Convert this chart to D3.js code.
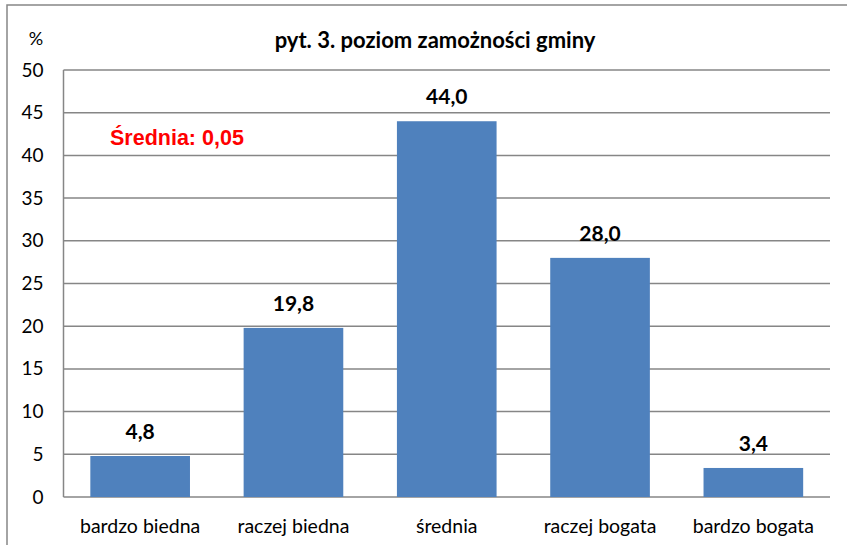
<!doctype html>
<html>
<head>
<meta charset="UTF-8" />
<title>pyt. 3. poziom zamożności gminy</title>
<style type="text/css">
body {
	margin: 0;
	background: #fff;
}

svg {
	display: block;
}

.grid line {
	stroke: #868686;
	stroke-width: 1.5px;
}

.axis text {
	font-family: Lato, "Open Sans", sans-serif;
	fill: #000;
}

.bar {
	fill: #4f81bd;
}

.value {
	font-family: Lato, sans-serif;
	font-weight: bold;
	font-size: 21px;
	text-anchor: middle;
}
</style>
<script src="https://d3js.org/d3.v7.min.js"></script>
</head>
<body>
<script>
	var categories = ["bardzo biedna", "raczej biedna", "średnia", "raczej bogata", "bardzo bogata"];
	var values = [4.8, 19.8, 44.0, 28.0, 3.4];
	var yTicks = [0, 5, 10, 15, 20, 25, 30, 35, 40, 45, 50];

	var W = 847, H = 545;
	var margin = {top: 70, right: 17, bottom: 48, left: 63.5},
		width = W - margin.left - margin.right,
		height = H - margin.top - margin.bottom;

	var svg = d3.select("body").append("svg")
		.attr("width", W)
		.attr("height", H);

	// outer frame (right and bottom edges fall outside the picture)
	svg.append("rect")
		.attr("x", 7)
		.attr("y", 5)
		.attr("width", W + 10)
		.attr("height", H + 10)
		.attr("fill", "none")
		.attr("stroke", "#868686")
		.attr("stroke-width", 1.5);

	var g = svg.append("g")
		.attr("transform", "translate(" + margin.left + "," + margin.top + ")");

	var x = d3.scaleBand()
		.domain(categories)
		.range([0, width])
		.paddingInner(0.35)
		.paddingOuter(0.175);

	var y = d3.scaleLinear()
		.domain([0, 50])
		.range([height, 0]);

	// gridlines
	g.append("g")
		.attr("class", "grid")
		.selectAll("line")
		.data(yTicks)
		.enter().append("line")
			.attr("x1", 0)
			.attr("x2", width)
			.attr("y1", function(d) { return y(d); })
			.attr("y2", function(d) { return y(d); });

	// y axis line
	g.append("g")
		.attr("class", "grid")
		.append("line")
			.attr("x1", 0)
			.attr("x2", 0)
			.attr("y1", y(50))
			.attr("y2", y(0));

	var yAxis = d3.axisLeft(y)
		.tickValues(yTicks)
		.tickSize(0)
		.tickPadding(20);

	g.append("g")
		.attr("class", "y axis")
		.call(yAxis)
		.call(function(s) { s.select(".domain").remove(); })
		.selectAll("text")
			.style("font-size", "19px");

	g.selectAll("rect.bar")
		.data(values)
		.enter().append("rect")
			.attr("class", "bar")
			.attr("x", function(d, i) { return x(categories[i]); })
			.attr("width", x.bandwidth())
			.attr("y", function(d) { return y(d); })
			.attr("height", function(d) { return y(0) - y(d); });

	g.selectAll("text.value")
		.data(values)
		.enter().append("text")
			.attr("class", "value")
			.attr("x", function(d, i) { return x(categories[i]) + x.bandwidth() / 2; })
			.attr("y", function(d) { return y(d) - 17; })
			.text(function(d) { return d.toFixed(1).replace(".", ","); });

	var xAxis = d3.axisBottom(x)
		.tickSize(0)
		.tickPadding(22);

	g.append("g")
		.attr("class", "x axis")
		.attr("transform", "translate(0," + height + ")")
		.call(xAxis)
		.call(function(s) { s.select(".domain").remove(); })
		.selectAll("text")
			.style("font-size", "19.5px");

	svg.append("text")
		.attr("x", 435)
		.attr("y", 48)
		.attr("text-anchor", "middle")
		.style("font-family", "Lato, sans-serif")
		.style("font-weight", "bold")
		.style("font-size", "22px")
		.text("pyt. 3. poziom  zamożności gminy");

	svg.append("text")
		.attr("x", 36)
		.attr("y", 45)
		.attr("text-anchor", "middle")
		.style("font-family", "Lato, sans-serif")
		.style("font-size", "18px")
		.text("%");

	svg.append("text")
		.attr("x", 110)
		.attr("y", 145)
		.style("font-family", "'Liberation Sans', Arial, sans-serif")
		.style("font-weight", "bold")
		.style("font-size", "21.5px")
		.style("fill", "#ff0000")
		.text("Średnia: 0,05");
</script>
</body>
</html>
